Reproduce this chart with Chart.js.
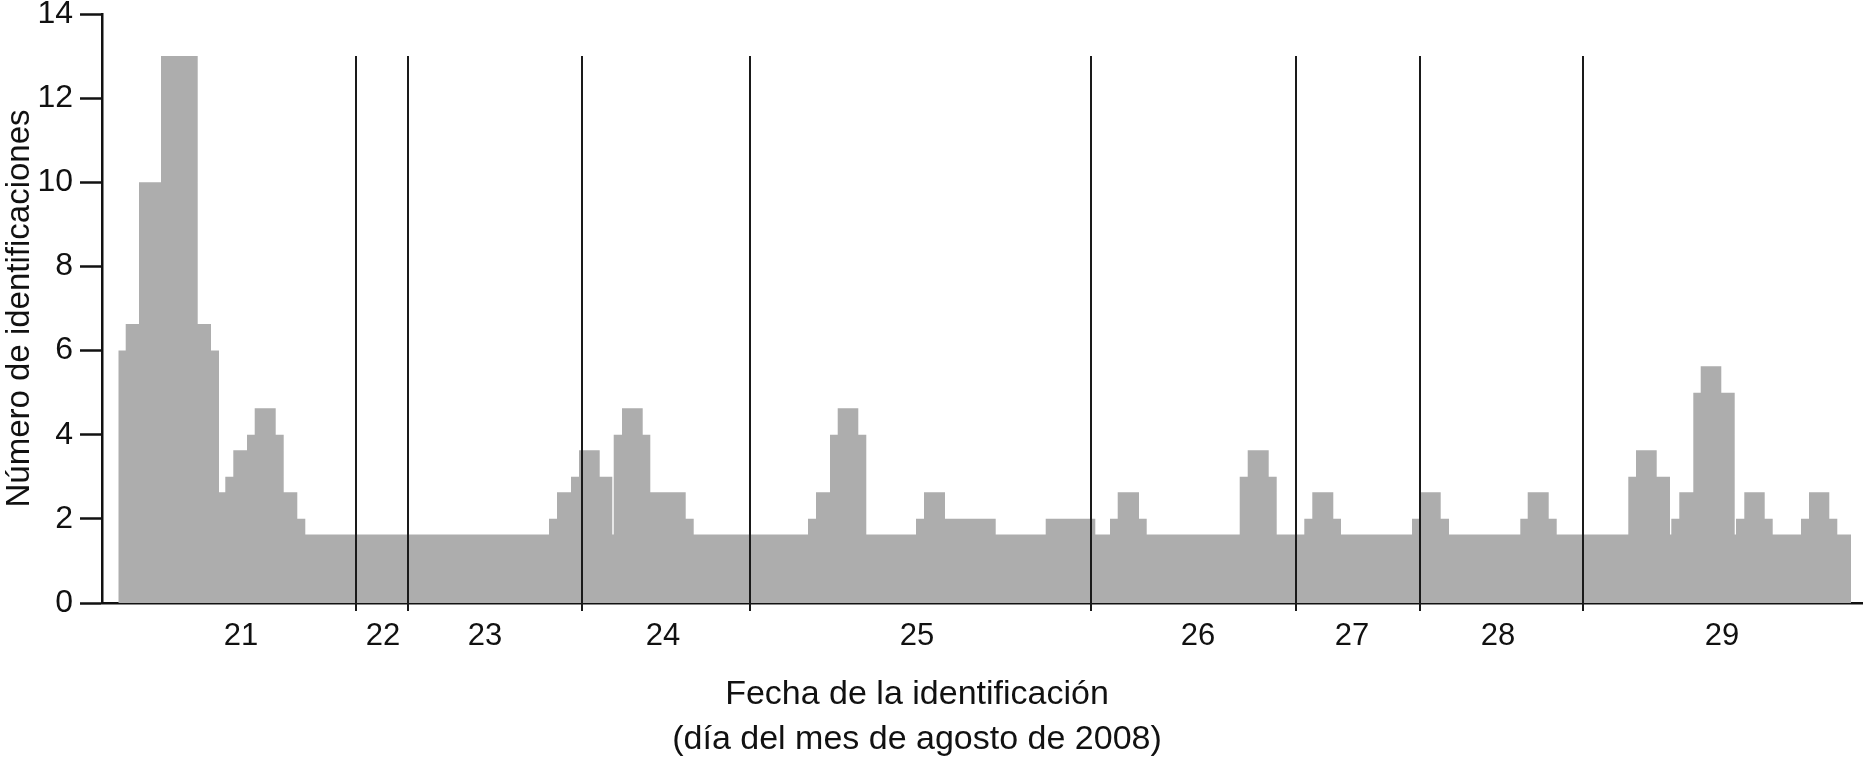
<!DOCTYPE html>
<html>
<head>
<meta charset="utf-8">
<script src="https://cdn.jsdelivr.net/npm/chart.js@4.4.0/dist/chart.umd.min.js"></script>
<style>
  html, body { margin: 0; padding: 0; background: #fff; }
</style>
</head>
<body>
<canvas id="myChart" width="1864" height="757"></canvas>
<script>
// left edge of each step (x units along the time axis) and its count
var binStart = [1.63, 2.37, 3.70, 5.90, 9.57, 10.90, 11.70, 12.33, 13.13, 14.50, 15.27, 17.37, 18.17, 19.53, 20.33,
  44.70, 45.50, 46.90, 47.70, 49.77, 51.03, 51.17, 52.00, 54.07, 54.83, 58.37, 59.17,
  70.60, 71.40, 72.80, 73.57, 75.63, 76.43, 81.40, 82.20, 84.30, 89.37, 94.37,
  99.33, 100.80, 101.57, 103.70, 104.47, 113.77, 114.57, 116.67, 117.47,
  120.23, 121.03, 123.13, 123.90, 131.00, 131.83, 133.87, 134.70,
  141.83, 142.57, 144.67, 145.47, 152.63, 153.40, 155.47, 156.80, 156.93, 157.73,
  159.13, 159.87, 161.93, 163.27, 163.40, 164.23, 166.27, 167.07, 169.90, 170.70, 172.73, 173.53];
var counts = [6, 6.63, 10, 13, 6.63, 6, 2.63, 3, 3.63, 4, 4.63, 4, 2.63, 2, 1.63,
  2, 2.63, 3, 3.63, 3, 1.63, 4, 4.63, 4, 2.63, 2, 1.63,
  2, 2.63, 4, 4.63, 4, 1.63, 2, 2.63, 2, 1.63, 2,
  1.63, 2, 2.63, 2, 1.63, 3, 3.63, 3, 1.63,
  2, 2.63, 2, 1.63, 2, 2.63, 2, 1.63,
  2, 2.63, 2, 1.63, 3, 3.63, 3, 1.63, 2, 2.63,
  5, 5.63, 5, 1.63, 2, 2.63, 2, 1.63, 2, 2.63, 2, 1.63];
var seriesEnd = 174.90;

// day boundaries (vertical lines), day labels and where each label sits
var dayBreaks = [25.40, 30.60, 48.03, 64.80, 98.87, 119.40, 131.77, 148.10];
var dayLabels = ['21', '22', '23', '24', '25', '26', '27', '28', '29'];
var dayTickAt = [13.9, 28.1, 38.3, 56.1, 81.5, 109.6, 125.0, 139.6, 162.0];
var yTicks = [0, 2, 4, 6, 8, 10, 12, 14];
var lineTop = 13;
var xTitle = ['Fecha de la identificación', '(día del mes de agosto de 2008)'];

var pts = binStart.map(function (x, i) { return { x: x, y: counts[i] }; });
pts.push({ x: seriesEnd, y: counts[counts.length - 1] });

var FONT = '"Liberation Sans", Arial, sans-serif';

var dayLines = {
  id: 'dayLines',
  afterDatasetsDraw: function (chart) {
    var c = chart.ctx, x = chart.scales.x, y = chart.scales.y;
    c.save();
    c.strokeStyle = '#1a1a1a';
    c.lineWidth = 2;
    dayBreaks.forEach(function (b) {
      var px = Math.round(x.getPixelForValue(b));
      c.beginPath();
      c.moveTo(px, y.getPixelForValue(lineTop));
      c.lineTo(px, y.getPixelForValue(0) + 8);
      c.stroke();
    });
    c.restore();
  },
  // x axis title, set a bit left of the plot centre like the original
  afterDraw: function (chart) {
    var c = chart.ctx, a = chart.chartArea;
    var cx = (a.left + a.right) / 2 - 65;
    c.save();
    c.fillStyle = '#111';
    c.font = '34px ' + FONT;
    c.textAlign = 'center';
    c.textBaseline = 'middle';
    c.fillText(xTitle[0], cx, a.bottom + 92);
    c.fillText(xTitle[1], cx, a.bottom + 137);
    c.restore();
  }
};

var ctx = document.getElementById('myChart').getContext('2d');
var myChart = new Chart(ctx, {
  type: 'line',
  data: {
    datasets: [{
      data: pts,
      stepped: 'before',
      fill: 'origin',
      backgroundColor: '#adadad',
      borderColor: 'rgba(0,0,0,0)',
      borderWidth: 0,
      pointRadius: 0
    }]
  },
  plugins: [dayLines],
  options: {
    responsive: false,
    animation: false,
    devicePixelRatio: 1,
    layout: { padding: { top: 14, right: 2, left: 0, bottom: 0 } },
    plugins: {
      legend: { display: false },
      tooltip: { enabled: false }
    },
    scales: {
      x: {
        type: 'linear',
        min: 0,
        max: 176,
        afterFit: function (s) { s.height = 154; s.paddingLeft = 0; s.paddingRight = 0; },
        afterBuildTicks: function (s) { s.ticks = dayTickAt.map(function (v) { return { value: v }; }); },
        grid: { display: false, drawTicks: false },
        border: { display: true, color: '#111', width: 2.5 },
        ticks: {
          autoSkip: false,
          maxRotation: 0,
          padding: 15,
          color: '#111',
          font: { family: FONT, size: 31 },
          callback: function (v, i) { return dayLabels[i]; }
        }
      },
      y: {
        min: 0,
        max: 14,
        afterFit: function (s) { s.width = 102; s.paddingTop = 0; s.paddingBottom = 0; },
        afterBuildTicks: function (s) { s.ticks = yTicks.map(function (v) { return { value: v }; }); },
        grid: { display: true, drawOnChartArea: false, drawTicks: true, tickLength: 22, tickWidth: 2.5, color: '#111' },
        border: { display: true, color: '#111', width: 2.5 },
        ticks: {
          padding: 7,
          color: '#111',
          font: { family: FONT, size: 32 }
        },
        title: {
          display: true,
          text: 'Número de identificaciones',
          color: '#111',
          padding: { top: 0, bottom: 0 },
          font: { family: FONT, size: 33 }
        }
      }
    }
  }
});
</script>
</body>
</html>
